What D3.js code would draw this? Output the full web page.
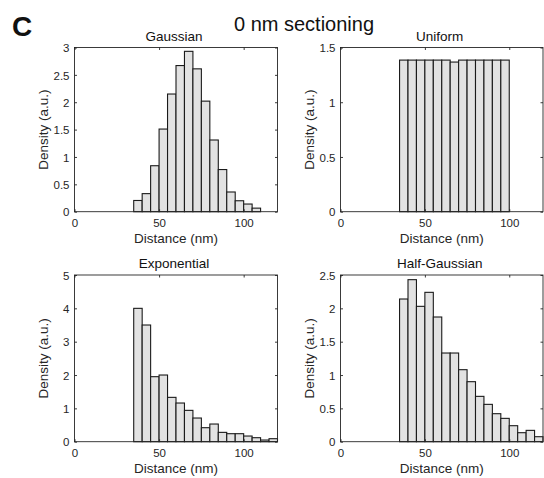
<!DOCTYPE html>
<html><head><meta charset="utf-8">
<script src="https://cdn.jsdelivr.net/npm/d3@7"></script>
<style>
html,body{margin:0;padding:0;background:#fff;}
svg text{font-family:"Liberation Sans",Arial,Helvetica,sans-serif;}
</style></head>
<body>
<svg id="chart" width="544" height="478"></svg>
<script>
// ---- data ----
const binWidth = 5;
const binStart = 35;
const gaussian = [0.205,0.33,0.84,1.51,2.15,2.67,2.93,2.61,2.02,1.31,0.77,0.36,0.2,0.14,0.065];
const uniform = [1.385,1.385,1.385,1.385,1.385,1.385,1.367,1.385,1.385,1.385,1.385,1.385,1.385];
const exponential = [4.0,3.5,1.95,2.0,1.33,1.16,0.94,0.71,0.42,0.53,0.28,0.24,0.24,0.17,0.12,0.05,0.09];
const halfGaussian = [2.14,2.43,2.03,2.24,1.87,1.33,1.33,1.08,0.90,0.68,0.56,0.42,0.35,0.24,0.135,0.17,0.075];
const xTicks = [0,50,100];
const titles = ["Gaussian","Uniform","Exponential","Half-Gaussian"];
const yMaxes = [3,1.5,5,2.5];
const yTickSets = [[0,0.5,1,1.5,2,2.5,3],[0,0.5,1,1.5],[0,1,2,3,4,5],[0,0.5,1,1.5,2,2.5]];
const xLabel = "Distance (nm)";
const yLabel = "Density (a.u.)";

// ---- layout ----
const panels = [
  {x0:74.5, x1:277.5, y0:47.5, y1:211.7},
  {x0:340.5, x1:543, y0:47.5, y1:211.7},
  {x0:74.5, x1:277.5, y0:275, y1:441.7},
  {x0:340.5, x1:543, y0:275, y1:441.7}
];
const seriesList = [gaussian, uniform, exponential, halfGaussian];
const axisColor = "#262626";

const svg = d3.select("#chart");

svg.append("text").attr("x",12).attr("y",36)
  .attr("font-size",28).attr("font-weight","bold").attr("fill","#111").text("C");
svg.append("text").attr("x",304).attr("y",31).attr("text-anchor","middle")
  .attr("font-size",20).attr("fill","#111").text("0 nm sectioning");

panels.forEach((p,i)=>{
  const data = seriesList[i].map((v,k)=>({x:binStart+k*binWidth, v}));
  const x = d3.scaleLinear().domain([0,120]).range([p.x0,p.x1]);
  const y = d3.scaleLinear().domain([0,yMaxes[i]]).range([p.y1,p.y0]);
  const g = svg.append("g");

  // bars
  g.selectAll("rect.bar").data(data).join("rect")
    .attr("class","bar")
    .attr("x",d=>x(d.x)).attr("width",d=>x(d.x+binWidth)-x(d.x))
    .attr("y",d=>y(d.v)).attr("height",d=>y(0)-y(d.v))
    .attr("fill","#e2e2e2").attr("stroke","#1a1a1a").attr("stroke-width",1.1);

  // box
  g.append("rect").attr("x",p.x0).attr("y",p.y0)
    .attr("width",p.x1-p.x0).attr("height",p.y1-p.y0)
    .attr("fill","none").attr("stroke",axisColor).attr("stroke-width",0.9);

  // axes (inside ticks)
  const tl = 2.5;
  const xb = g.append("g").attr("transform",`translate(0,${p.y1})`)
    .call(d3.axisBottom(x).tickValues(xTicks).tickSizeInner(-tl).tickSizeOuter(0).tickPadding(5));
  const xt = g.append("g").attr("transform",`translate(0,${p.y0})`)
    .call(d3.axisTop(x).tickValues(xTicks).tickSizeInner(-tl).tickSizeOuter(0).tickFormat(""));
  const yl = g.append("g").attr("transform",`translate(${p.x0},0)`)
    .call(d3.axisLeft(y).tickValues(yTickSets[i]).tickSizeInner(-tl).tickSizeOuter(0).tickPadding(5).tickFormat(d3.format("~g")));
  const yr = g.append("g").attr("transform",`translate(${p.x1},0)`)
    .call(d3.axisRight(y).tickValues(yTickSets[i]).tickSizeInner(-tl).tickSizeOuter(0).tickFormat(""));
  [xb,xt,yl,yr].forEach(a=>{
    a.select(".domain").remove();
    a.selectAll("line").attr("stroke",axisColor).attr("stroke-width",0.9);
    a.selectAll("text").attr("font-size",11.5).attr("fill",axisColor)
      .style("font-family",'"Liberation Sans",Arial,sans-serif');
  });
  xb.selectAll("text").attr("dy",null).attr("y",15.5).attr("dominant-baseline","auto");
  yl.selectAll("text").attr("x",-5).attr("dy","0.36em");

  // labels
  const cx = (p.x0+p.x1)/2;
  g.append("text").attr("x",cx-2).attr("y",p.y0-7).attr("text-anchor","middle")
    .attr("font-size",13.5).attr("fill","#111").text(titles[i]);
  g.append("text").attr("x",cx).attr("y",p.y1+31).attr("text-anchor","middle")
    .attr("font-size",13.5).attr("fill",axisColor).text(xLabel);
  g.append("text").attr("transform",`translate(${p.x0-27},${(p.y0+p.y1)/2}) rotate(-90)`)
    .attr("text-anchor","middle").attr("font-size",13.5).attr("fill",axisColor).text(yLabel);
});
</script>
</body></html>
